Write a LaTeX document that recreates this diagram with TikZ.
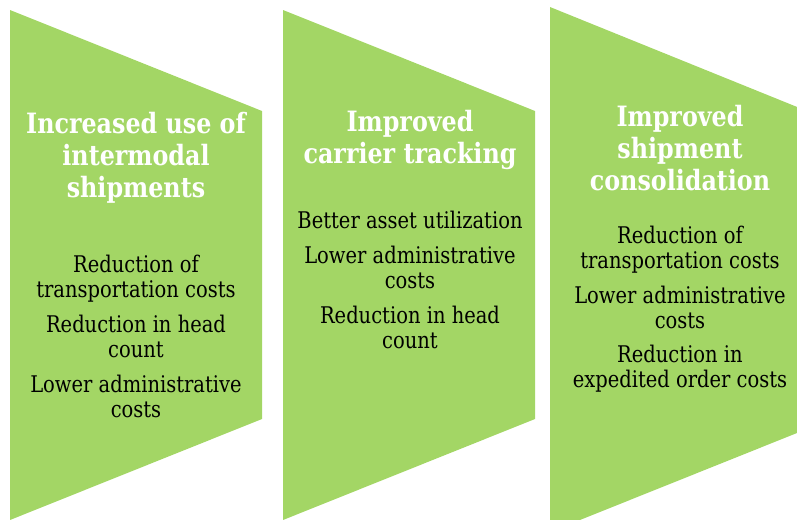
\documentclass[tikz,border=0pt]{standalone}
\usepackage{fontspec}
\setmainfont{DejaVu Serif}[FakeStretch=0.85]
\usepackage{xcolor}
\usepackage{tikz}
\definecolor{chevgreen}{RGB}{163,214,101}
\tikzset{
  chevron/.style={fill=chevgreen, draw=none},
  headtext/.style={text=white, align=center, anchor=base, inner sep=0pt, font=\bfseries\fontsize{21}{23.8}\selectfont},
  itemtext/.style={text=black, align=center, anchor=base, inner sep=0pt, font=\fontsize{17.2}{18.75}\selectfont}
}

\begin{document}
\begin{tikzpicture}[x=0.75pt, y=-0.75pt]
    \useasboundingbox (0,0) rectangle (797,519);
    \clip (0,0) rectangle (797,519);

    % Chevrons
    \fill [chevron] (10,10) -- (262,111) -- (262,419) -- (10,520) -- cycle;
    \fill [chevron] (283,10) -- (535,111) -- (535,419) -- (283,520) -- cycle;
    \fill [chevron] (550,7) -- (812,113) -- (812,427) -- (550,532) -- cycle;

    % Intermodal (base = last line)
    \node [headtext] (t1) at (136,197) {Increased use of\\intermodal\\shipments};
    \node [itemtext] (a1) at (136,297) {Reduction of\\transportation costs};
    \node [itemtext] (b1) at (136,357) {Reduction in head\\count};
    \node [itemtext] (c1) at (136,417) {Lower administrative\\costs};

    % Carrier tracking
    \node [headtext] (t2) at (410,163) {Improved\\carrier tracking};
    \node [itemtext] (a2) at (410,228) {Better asset utilization};
    \node [itemtext] (b2) at (410,288) {Lower administrative\\costs};
    \node [itemtext] (c2) at (410,348) {Reduction in head\\count};

    % Consolidation
    \node [headtext] (t3) at (680,190) {Improved\\shipment\\consolidation};
    \node [itemtext] (a3) at (680,268) {Reduction of\\transportation costs};
    \node [itemtext] (b3) at (680,328) {Lower administrative\\costs};
    \node [itemtext] (c3) at (680,387) {Reduction in\\expedited order costs};
\end{tikzpicture}
\end{document}
